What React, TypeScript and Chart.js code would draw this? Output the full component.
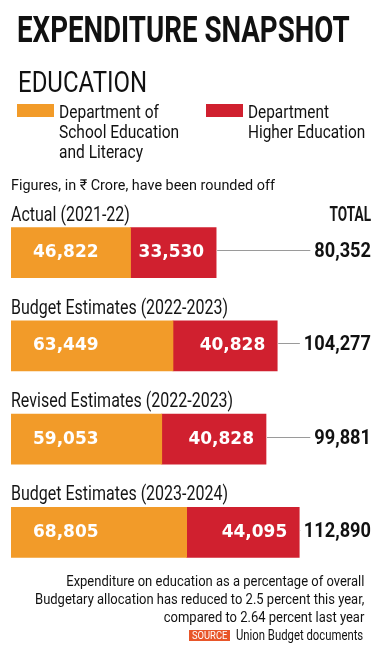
import React, { useEffect, useLayoutEffect, useRef, useState } from "react";
import { Chart, registerables } from "chart.js";

Chart.register(...registerables);

const categories = [
  "Actual (2021-22)",
  "Budget Estimates (2022-2023)",
  "Revised Estimates (2022-2023)",
  "Budget Estimates (2023-2024)",
];
const schoolValues = [46822, 63449, 59053, 68805];
const higherValues = [33530, 40828, 40828, 44095];
const totalValues = [80352, 104277, 99881, 112890];
const seriesNames = ["Department of School Education and Literacy", "Department Higher Education"];

const ORANGE = "#F29B29";
const RED = "#D0202F";
const COND = 'Roboto, "Liberation Sans", sans-serif';
const XMAX = 141000;

const fmt = (v: number) => v.toLocaleString("en-US");

function drawScaled(ctx: CanvasRenderingContext2D, text: string, x: number, y: number, align: CanvasTextAlign, sx: number) {
  ctx.save();
  ctx.translate(x, y);
  ctx.scale(sx, 1);
  ctx.textAlign = align;
  ctx.textBaseline = "alphabetic";
  ctx.fillText(text, 0, 0);
  ctx.restore();
}

const labelsPlugin = {
  id: "barLabels",
  afterDatasetsDraw(chart: any) {
    const ctx = chart.ctx as CanvasRenderingContext2D;
    const m0 = chart.getDatasetMeta(0);
    const m1 = chart.getDatasetMeta(1);
    const right = chart.chartArea.right;
    categories.forEach((cat, i) => {
      const b0 = m0.data[i] as any;
      const b1 = m1.data[i] as any;
      const cy = b0.y;
      const top = cy - b0.height / 2;
      ctx.save();
      // category label
      ctx.fillStyle = "#151515";
      ctx.font = `400 20px ${COND}`;
      drawScaled(ctx, cat, b0.base, top - 7, "left", 0.8);
      if (i === 0) {
        ctx.font = `700 20px ${COND}`;
        drawScaled(ctx, "TOTAL", right, top - 7, "right", 0.68);
      }
      // values inside bars
      ctx.fillStyle = "#ffffff";
      ctx.font = `bold 17px "DejaVu Sans", sans-serif`;
      drawScaled(ctx, fmt(schoolValues[i]), b0.base + 22, cy + 4.5, "left", 1);
      drawScaled(ctx, fmt(higherValues[i]), b1.x - 12, cy + 4.5, "right", 1);
      // total label with connector
      ctx.font = `700 20px ${COND}`;
      ctx.fillStyle = "#111111";
      const label = fmt(totalValues[i]);
      const sx = 0.91;
      const w = ctx.measureText(label).width * sx;
      drawScaled(ctx, label, right, cy + 4.5, "right", sx);
      ctx.strokeStyle = "#9a9a9a";
      ctx.lineWidth = 1;
      ctx.beginPath();
      const ly = Math.round(cy - 2.5) + 0.5;
      ctx.moveTo(b1.x + 1, ly);
      ctx.lineTo(right - w - 4, ly);
      ctx.stroke();
      ctx.restore();
    });
  },
};

function Fit({ w, origin = "left", style, children }: { w: number; origin?: string; style: React.CSSProperties; children: React.ReactNode }) {
  const r = useRef<HTMLDivElement | null>(null);
  const [s, setS] = useState(1);
  useLayoutEffect(() => {
    if (r.current) {
      const ow = r.current.offsetWidth;
      if (ow > 0) setS(w / ow);
    }
  }, [w]);
  return (
    <div
      ref={r}
      style={{
        position: "absolute",
        margin: 0,
        whiteSpace: "nowrap",
        transform: `scaleX(${s})`,
        transformOrigin: `${origin} top`,
        ...style,
      }}
    >
      {children}
    </div>
  );
}

export default function App() {
  const ref = useRef<HTMLCanvasElement | null>(null);
  useEffect(() => {
    if (!ref.current) return;
    const chart = new Chart(ref.current, {
      type: "bar",
      data: {
        labels: categories,
        datasets: [
          { label: seriesNames[0], data: schoolValues, backgroundColor: ORANGE, barThickness: 50, borderWidth: 0 },
          { label: seriesNames[1], data: higherValues, backgroundColor: RED, barThickness: 50, borderWidth: 0 },
        ],
      },
      options: {
        indexAxis: "y",
        responsive: false,
        maintainAspectRatio: false,
        animation: false,
        layout: { padding: { left: 11, right: 9, top: 206, bottom: 73 } },
        scales: {
          x: { stacked: true, display: false, min: 0, max: XMAX },
          y: { stacked: true, display: false },
        },
        plugins: { legend: { display: false }, tooltip: { enabled: false } },
      },
      plugins: [labelsPlugin],
    } as any);
    return () => chart.destroy();
  }, []);

  return (
    <div style={{ position: "absolute", left: 0, top: 0, width: 380, height: 652, background: "#fff", overflow: "hidden", fontFamily: COND, color: "#111" }}>
      <canvas ref={ref} width={380} height={652} style={{ position: "absolute", left: 0, top: 0, width: 380, height: 652 }} />
      <Fit w={333} style={{ left: 17, top: 12, fontSize: 36, lineHeight: 1, fontWeight: 700 }}>
        EXPENDITURE SNAPSHOT
      </Fit>
      <Fit w={129} style={{ left: 18, top: 67.5, fontSize: 29, lineHeight: 1, fontWeight: 400 }}>EDUCATION</Fit>
      <div style={{ position: "absolute", left: 17, top: 104, width: 37, height: 13, background: ORANGE }} />
      <Fit w={120} style={{ left: 59, top: 101.8, fontSize: 18, lineHeight: "20px" }}>
        Department of<br />School Education<br />and Literacy
      </Fit>
      <div style={{ position: "absolute", left: 206, top: 104, width: 37, height: 13, background: RED }} />
      <Fit w={117} style={{ left: 248, top: 101.8, fontSize: 18, lineHeight: "20px" }}>
        Department<br />Higher Education
      </Fit>
      <Fit w={264} style={{ left: 11, top: 178.3, fontSize: 15, lineHeight: 1 }}>
        Figures, in ₹ Crore, have been rounded off
      </Fit>
      <Fit w={329} origin="right" style={{ right: 16, top: 572, fontSize: 15, lineHeight: "18px", textAlign: "right" }}>
        Expenditure on education as a percentage of overall<br />
        Budgetary allocation has reduced to 2.5 percent this year,<br />
        compared to 2.64 percent last year
      </Fit>
      <div style={{ position: "absolute", left: 189, top: 630, width: 41, height: 11, background: "#E8562A" }} />
      <Fit w={35} style={{ left: 192, top: 629.5, fontSize: 11, lineHeight: "12px", color: "#fff" }}>SOURCE</Fit>
      <Fit w={127} style={{ left: 236, top: 627, fontSize: 14, lineHeight: "16px" }}>Union Budget documents</Fit>
    </div>
  );
}
